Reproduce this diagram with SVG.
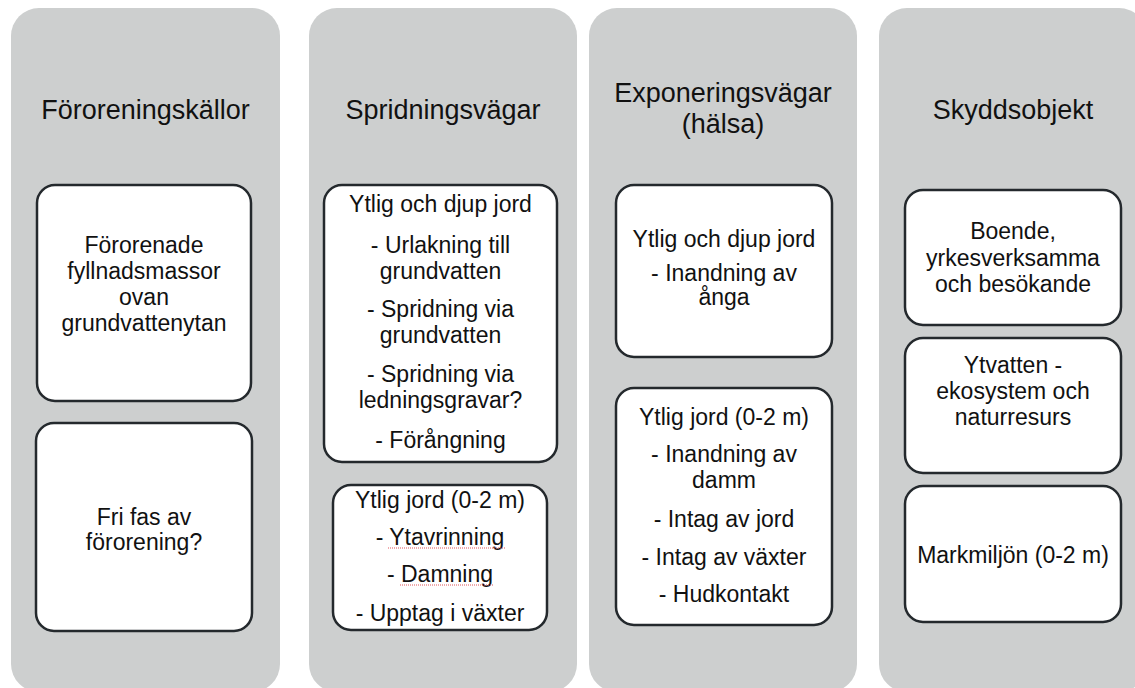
<svg xmlns="http://www.w3.org/2000/svg" width="1135" height="688" viewBox="0 0 1135 688">
<style>
.col{fill:#cdcfcf;}
.box{fill:#ffffff;stroke:#24292d;stroke-width:2.5;}
.title{font-family:"Liberation Sans",Arial,sans-serif;font-size:27px;fill:#111111;text-anchor:middle;}
.t{font-family:"Liberation Sans",Arial,sans-serif;font-size:23px;fill:#111111;text-anchor:middle;}
.sq{stroke:#e0555a;stroke-width:1;stroke-dasharray:1 1;fill:none;}
</style>
<rect width="1135" height="688" fill="#ffffff"/>
<g id="col-fororeningskallor">
<rect class="col" x="11" y="8" width="269" height="684" rx="28"/>
<text class="title" x="145.5" y="119">Föroreningskällor</text>
</g>
<g id="col-spridningsvagar">
<rect class="col" x="309" y="8" width="268" height="684" rx="28"/>
<text class="title" x="443" y="119">Spridningsvägar</text>
</g>
<g id="col-exponeringsvagar">
<rect class="col" x="589" y="8" width="268" height="684" rx="28"/>
<text class="title" x="723" y="102">Exponeringsvägar</text>
<text class="title" x="723" y="133">(hälsa)</text>
</g>
<g id="col-skyddsobjekt">
<rect class="col" x="879" y="8" width="268" height="684" rx="28"/>
<text class="title" x="1013" y="119">Skyddsobjekt</text>
</g>
<g id="n-fyllnadsmassor">
<rect class="box" x="37" y="185" width="214" height="216" rx="18"/>
<text class="t" x="144" y="253">Förorenade</text>
<text class="t" x="144" y="279">fyllnadsmassor</text>
<text class="t" x="144" y="305">ovan</text>
<text class="t" x="144" y="331">grundvattenytan</text>
</g>
<g id="n-frifas">
<rect class="box" x="36" y="423" width="216" height="208" rx="18"/>
<text class="t" x="144" y="525">Fri fas av</text>
<text class="t" x="144" y="550">förorening?</text>
</g>
<g id="n-sprid-djup">
<rect class="box" x="324" y="185" width="233" height="277" rx="18"/>
<text class="t" x="440.5" y="212">Ytlig och djup jord</text>
<text class="t" x="440.5" y="253">- Urlakning till</text>
<text class="t" x="440.5" y="279">grundvatten</text>
<text class="t" x="440.5" y="317">- Spridning via</text>
<text class="t" x="440.5" y="343">grundvatten</text>
<text class="t" x="440.5" y="382">- Spridning via</text>
<text class="t" x="440.5" y="408">ledningsgravar?</text>
<text class="t" x="440.5" y="448">- Förångning</text>
</g>
<g id="n-sprid-ytlig">
<rect class="box" x="333" y="485" width="214" height="145" rx="18"/>
<text class="t" x="440" y="508">Ytlig jord (0-2 m)</text>
<text class="t" x="440" y="545">- Ytavrinning</text>
<text class="t" x="440" y="582">- Damning</text>
<text class="t" x="440" y="621">- Upptag i växter</text>
<line class="sq" x1="388" y1="548" x2="506" y2="548"/>
<line class="sq" x1="400" y1="585" x2="494" y2="585"/>
</g>
<g id="n-expo-djup">
<rect class="box" x="616" y="185" width="216" height="172" rx="18"/>
<text class="t" x="724" y="247">Ytlig och djup jord</text>
<text class="t" x="724" y="281">- Inandning av</text>
<text class="t" x="724" y="305">ånga</text>
</g>
<g id="n-expo-ytlig">
<rect class="box" x="616" y="388" width="216" height="237" rx="18"/>
<text class="t" x="724" y="425">Ytlig jord (0-2 m)</text>
<text class="t" x="724" y="462">- Inandning av</text>
<text class="t" x="724" y="488">damm</text>
<text class="t" x="724" y="527">- Intag av jord</text>
<text class="t" x="724" y="565">- Intag av växter</text>
<text class="t" x="724" y="602">- Hudkontakt</text>
</g>
<g id="n-boende">
<rect class="box" x="905" y="190" width="216" height="135" rx="18"/>
<text class="t" x="1013" y="239">Boende,</text>
<text class="t" x="1013" y="266">yrkesverksamma</text>
<text class="t" x="1013" y="292">och besökande</text>
</g>
<g id="n-ytvatten">
<rect class="box" x="905" y="338" width="216" height="135" rx="18"/>
<text class="t" x="1013" y="373">Ytvatten -</text>
<text class="t" x="1013" y="399">ekosystem och</text>
<text class="t" x="1013" y="425">naturresurs</text>
</g>
<g id="n-markmiljon">
<rect class="box" x="905" y="486" width="216" height="136" rx="18"/>
<text class="t" x="1013" y="563">Markmiljön (0-2 m)</text>
</g>
<g id="connectors"></g>
</svg>
